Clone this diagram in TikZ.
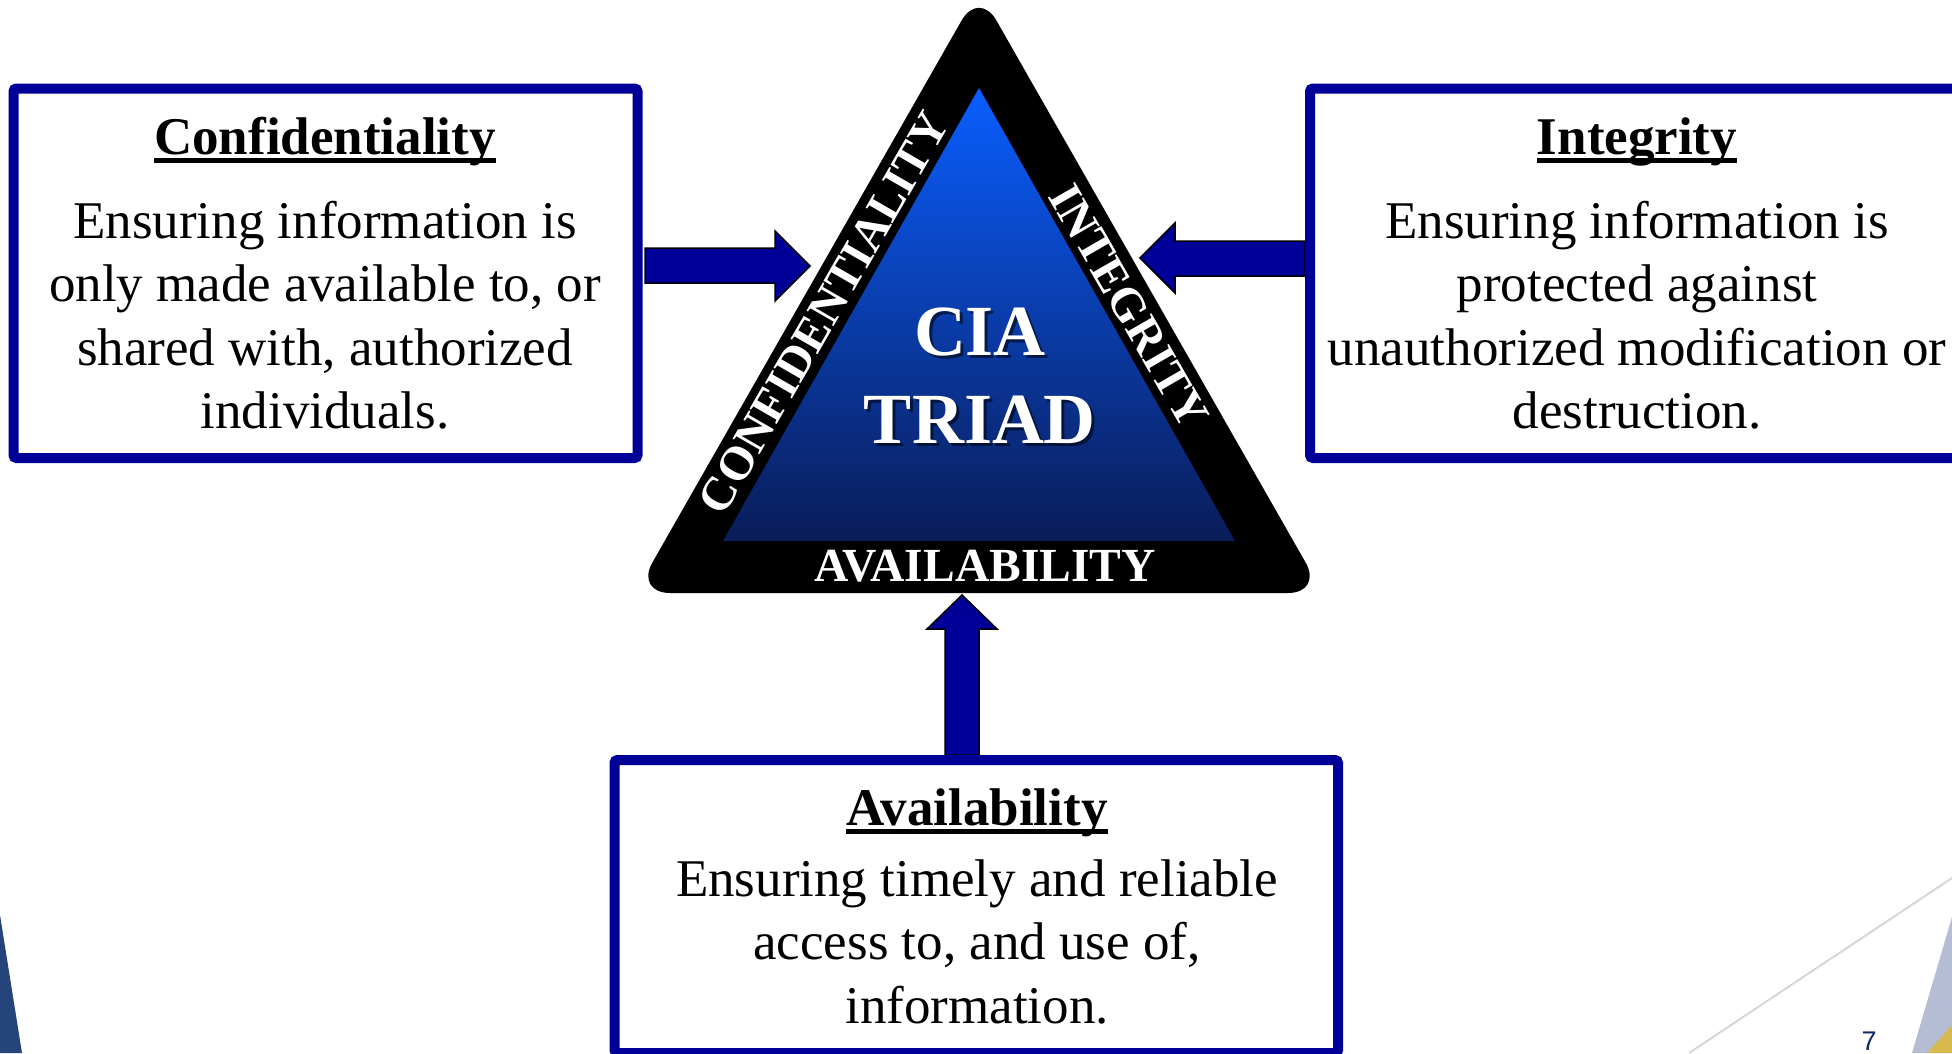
\documentclass[tikz,border=0pt]{standalone}
\usepackage{fontspec}
\setmainfont{Liberation Serif}
\newfontfamily\pagefont{Liberation Sans}
\definecolor{boxblue}{RGB}{0,0,153}
\definecolor{triTop}{RGB}{10,94,255}
\definecolor{triMid}{RGB}{8,68,205}
\definecolor{triBot}{RGB}{10,28,88}
\definecolor{decoNavy}{RGB}{36,68,122}
\definecolor{decoGrey}{RGB}{215,215,215}
\definecolor{decoLight}{RGB}{180,189,211}
\definecolor{decoGold}{RGB}{216,185,80}
\definecolor{pageNavy}{RGB}{16,40,100}
\begin{document}
\begin{tikzpicture}[x=1pt,y=-1pt,
  blockarrow/.style={fill=boxblue, draw=black, line width=1.5pt, line join=miter},
  infobox/.style={draw=boxblue, fill=white, line width=10pt, rounded corners=3pt, inner sep=0pt},
  titletext/.style={font=\fontsize{53}{63.5}\selectfont\bfseries, inner sep=0pt, anchor=base},
  bodytext/.style={font=\fontsize{53}{63.5}\selectfont, inner sep=0pt, anchor=base},
  sidetext/.style={font=\fontsize{47.5}{50}\selectfont\bfseries, text=white, inner sep=0pt},
  bigtext/.style={font=\fontsize{72}{88}\selectfont\bfseries, text=white, inner sep=0pt, anchor=base},
  bigshadow/.style={bigtext, text=black, opacity=0.55},
  ulinestyle/.style={line width=4.5pt}
]
\useasboundingbox (0,0) rectangle (1952,1053);
\clip (0,0) rectangle (1952,1053);
\fill[white] (0,0) rectangle (1952,1053);

% slide decorations
\fill[decoNavy] (0,915) -- (22,1053) -- (0,1053) -- cycle;
\draw[decoGrey, line width=2pt] (1689,1053) -- (1952,878);
\fill[decoLight] (1952,917) -- (1912,1053) -- (1952,1053) -- cycle;
\fill[decoGold] (1927,1053) -- (1952,1025) -- (1952,1053) -- cycle;
\node[font=\pagefont\fontsize{27}{30}\selectfont, text=pageNavy, inner sep=0pt] (pnum) at (1869,1041) {7};

% block arrows
\draw[blockarrow] (645,248) -- (775,248) -- (775,231) -- (810,266) -- (775,301) -- (775,283) -- (645,283) -- cycle;
\draw[blockarrow] (1305,241) -- (1175,241) -- (1175,223) -- (1140,258) -- (1175,293) -- (1175,276) -- (1305,276) -- cycle;
\draw[blockarrow] (945,755) -- (945,629) -- (927,629) -- (962,595) -- (997,629) -- (979,629) -- (979,755) -- cycle;

% triangle
\coordinate (ta) at (979,-10);
\coordinate (tb) at (635,593);
\coordinate (tc) at (1323,593);
\fill[black, rounded corners=35pt] (ta) -- (tb) -- (tc) -- cycle;
\shade[top color=triTop, middle color=triMid, bottom color=triBot] (979,88) -- (723,541) -- (1235,541) -- cycle;

\node[sidetext, rotate=60] (conf) at (824,313) {CONFIDENTIALITY};
\node[sidetext, rotate=-60] (integ) at (1129,306) {INTEGRITY};
\node[sidetext, anchor=base] (avail) at (985,581) {AVAILABILITY};

\node[bigshadow] (ciash) at (983,358) {CIA};
\node[bigshadow] (triadsh) at (983,446) {TRIAD};
\node[bigtext] (cia) at (980,355) {CIA};
\node[bigtext] (triad) at (980,443) {TRIAD};

% boxes
\node[infobox, minimum width=624pt, minimum height=369.5pt] (lbox) at (325.5,273.25) {};
\node[infobox, minimum width=654pt, minimum height=369.5pt] (rbox) at (1637,273.25) {};
\node[infobox, minimum width=723.5pt, minimum height=293pt] (bbox) at (976.25,906.5) {};

\node[titletext] (ltitle) at (325,154) {Confidentiality};
\draw[ulinestyle] ([yshift=-6.5pt]ltitle.base west) -- ([yshift=-6.5pt]ltitle.base east);
\node[bodytext] (lbody) at (325,238) {\begin{tabular}[t]{@{}c@{}}Ensuring information is\\ only made available to, or\\ shared with, authorized\\ individuals.\end{tabular}};

\node[titletext] (rtitle) at (1637,154) {Integrity};
\draw[ulinestyle] ([yshift=-6.5pt]rtitle.base west) -- ([yshift=-6.5pt]rtitle.base east);
\node[bodytext] (rbody) at (1637,238) {\begin{tabular}[t]{@{}c@{}}Ensuring information is\\ protected against\\ unauthorized modification or\\ destruction.\end{tabular}};

\node[titletext] (btitle) at (977,825) {Availability};
\draw[ulinestyle] ([yshift=-6.5pt]btitle.base west) -- ([yshift=-6.5pt]btitle.base east);
\node[bodytext] (bbody) at (977,896) {\begin{tabular}[t]{@{}c@{}}Ensuring timely and reliable\\ access to, and use of,\\ information.\end{tabular}};
\end{tikzpicture}
\end{document}
